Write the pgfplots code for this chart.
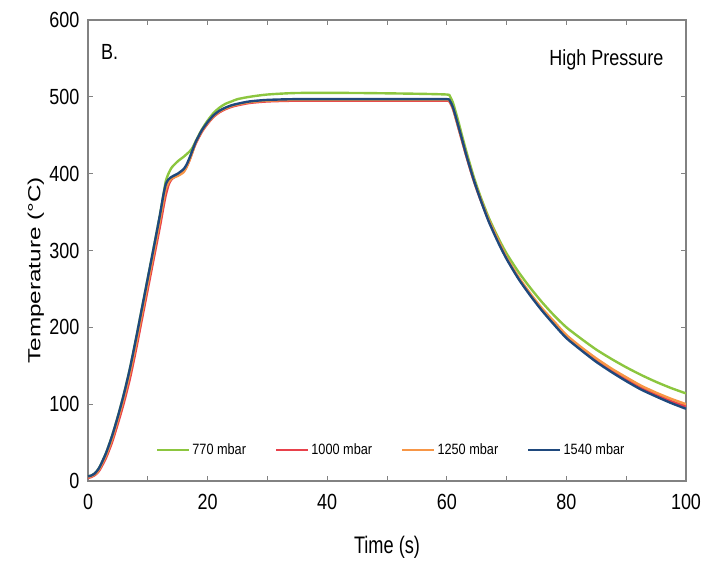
\documentclass[border=0pt]{standalone}
\usepackage{fontspec}
\setmainfont{Liberation Sans}
\newfontfamily\tickfont{Liberation Sans}[FakeStretch=0.82]
\newfontfamily\labfont{Liberation Sans}[FakeStretch=0.76]
\newfontfamily\legfont{Liberation Sans}[FakeStretch=0.85]
\usepackage{graphicx}
\usepackage{pgfplots}
\pgfplotsset{compat=1.18}

\definecolor{cgreen}{RGB}{140,198,63}
\definecolor{cred}{RGB}{232,65,75}
\definecolor{corange}{RGB}{247,150,70}
\definecolor{cblue}{RGB}{31,73,125}
\definecolor{axgray}{RGB}{130,130,130}

\begin{document}
\begin{tikzpicture}
% fix the page to the reference size (1bp = 1px)
\path[use as bounding box] (-88bp,-85bp) rectangle (631bp,481bp);
\begin{axis}[
    at={(0,0)}, anchor=south west,
    scale only axis,
    width=598bp, height=461bp,
    xmin=0, xmax=100,
    ymin=0, ymax=600,
    xtick={0,20,...,100},
    minor xtick={10,30,...,90},
    ytick={0,100,...,600},
    tick align=inside,
    major tick length=5bp,
    minor tick length=5bp,
    tick style={axgray, line width=0.8bp},
    axis line style={axgray, line width=1.4bp},
    /pgf/number format/assume math mode=true,
    tick label style={font=\tickfont\fontsize{22}{24}\selectfont},
    xticklabel style={yshift=-10bp},
    yticklabel style={xshift=-5bp},
    xlabel={Time (s)},
    ylabel={\scalebox{1}[0.72]{Temperature (°C)}},
    xlabel style={font=\labfont\fontsize{24}{26}\selectfont,
        at={(axis description cs:0.5,-0.143)}, anchor=center},
    ylabel style={font=\fontsize{24.4}{26}\selectfont,
        at={(axis description cs:-0.087,0.457)}, anchor=center, rotate=0},
    legend columns=4,
    legend style={draw=none, fill=none, at={(0.507,0.067)}, anchor=center,
        font=\legfont\fontsize{15}{17}\selectfont,
        /tikz/every even column/.append style={column sep=27bp}},
    legend image code/.code={\draw[#1] (0bp,0bp) -- (32bp,0bp);},
    every axis plot/.append style={line width=2.4bp},
    clip=true,
]

\addplot[cgreen, smooth, tension=0.4] coordinates {
(0,6)(0.5,7)(1,9)(1.5,13)(2,19)(3,36)(4,58)(5,84)(6,113)(7,146)(8,184)(9,224)(10,264)(11,304)(12,345)(12.6,372)
(13,390)(13.4,399)(14,408)(15,416)(16,422)(17,429)(17.5,434)(18,442)(19,457)(20,469)(21,479)(22,486)(23,491)(24,494)
(25,497)(27,500)(30,503)(35,505)(45,505)(55,504)(60,503)(60.5,501)(61,493)(61.5,480)(62,466)(62.5,451)(63.3,428)
(64.5,396)(65.6,371)(67,343)(68.5,318)(70,296)(72,272)(74,251)(76,232)(78,215)(80,200)(82.5,185)(85,171)(87.5,159)
(90,148)(92.5,138)(95,129)(97.5,121)(100,114)
};
\addlegendentry{770 mbar}

\addplot[cred, smooth, tension=0.4] coordinates {
(0,4)(0.5,5)(1,7)(1.5,10)(2,15)(3,30)(4,50)(5,75)(6,102)(7,133)(8,170)(9,210)(10,250)(11,290)(12,330)(12.6,356)
(13,372)(13.5,386)(14,393)(15,398)(16,403)(16.5,409)(17,418)(17.5,429)(18,439)(19,454)(20,465)(21,474)(22,480)
(23,484)(24,487)(25,489)(27,492)(30,494)(35,495)(45,495)(55,495)(60,495)(60.5,493)(61,485)(61.5,472)(62,458)
(62.5,444)(63.3,422)(64.5,391)(65.6,367)(67,339)(68.5,314)(70,290)(72,264)(74,242)(76,222)(78,205)(80,188)
(82.5,172)(85,157.5)(87.5,144.5)(90,132.5)(92.5,121.5)(95,112.5)(97.5,104)(100,97)
};
\addlegendentry{1000 mbar}

\addplot[corange, smooth, tension=0.4] coordinates {
(0,5)(0.5,6)(1,8)(1.5,11)(2,17)(3,33)(4,54)(5,80)(6,108)(7,140)(8,177)(9,217)(10,257)(11,297)(12,338)(12.6,364)
(13,380)(13.5,389)(14,394)(15,397)(16,402)(16.5,409)(17,418)(17.5,429)(18,440)(19,455)(20,466)(21,475)(22,481)
(23,485)(24,488)(25,490)(27,493)(30,495)(35,496)(45,496)(55,496)(60,496)(60.5,494)(61,486)(61.5,473)(62,459)
(62.5,445)(63.3,423)(64.5,392)(65.6,368)(67,340)(68.5,315)(70,291)(72,265.5)(74,243.5)(76,224)(78,207)(80,190)
(82.5,174)(85,159.5)(87.5,146.5)(90,135)(92.5,124)(95,115)(97.5,107)(100,100)
};
\addlegendentry{1250 mbar}

\addplot[cblue, smooth, tension=0.4] coordinates {
(0,6)(0.5,7)(1,9)(1.5,13)(2,19)(3,36)(4,58)(5,84)(6,113)(7,146)(8,184)(9,224)(10,264)(11,304)(12,345)(12.6,372)
(13,386)(13.4,392)(14,396)(15,400)(16,406)(16.5,412)(17,421)(17.5,431)(18,441)(19,456)(20,467)(21,476)(22,482)
(23,486)(24,489)(25,491)(27,494)(30,496)(35,497)(45,497)(55,497)(60,497)(60.5,495)(61,487)(61.5,474)(62,460)
(62.5,446)(63.3,423)(64.5,392)(65.6,367)(67,338)(68.5,312)(70,289)(72,263)(74,241)(76,221)(78,203)(80,186)
(82.5,170)(85,155)(87.5,142)(90,130)(92.5,119)(95,110)(97.5,101.5)(100,94)
};
\addlegendentry{1540 mbar}

\node[anchor=west, font=\tickfont\fontsize{22}{24}\selectfont] at (axis description cs:0.016,0.93) {B.};
\node[anchor=east, font=\tickfont\fontsize{22}{24}\selectfont] at (axis description cs:0.968,0.913) {High Pressure};
\end{axis}
\end{tikzpicture}
\end{document}
